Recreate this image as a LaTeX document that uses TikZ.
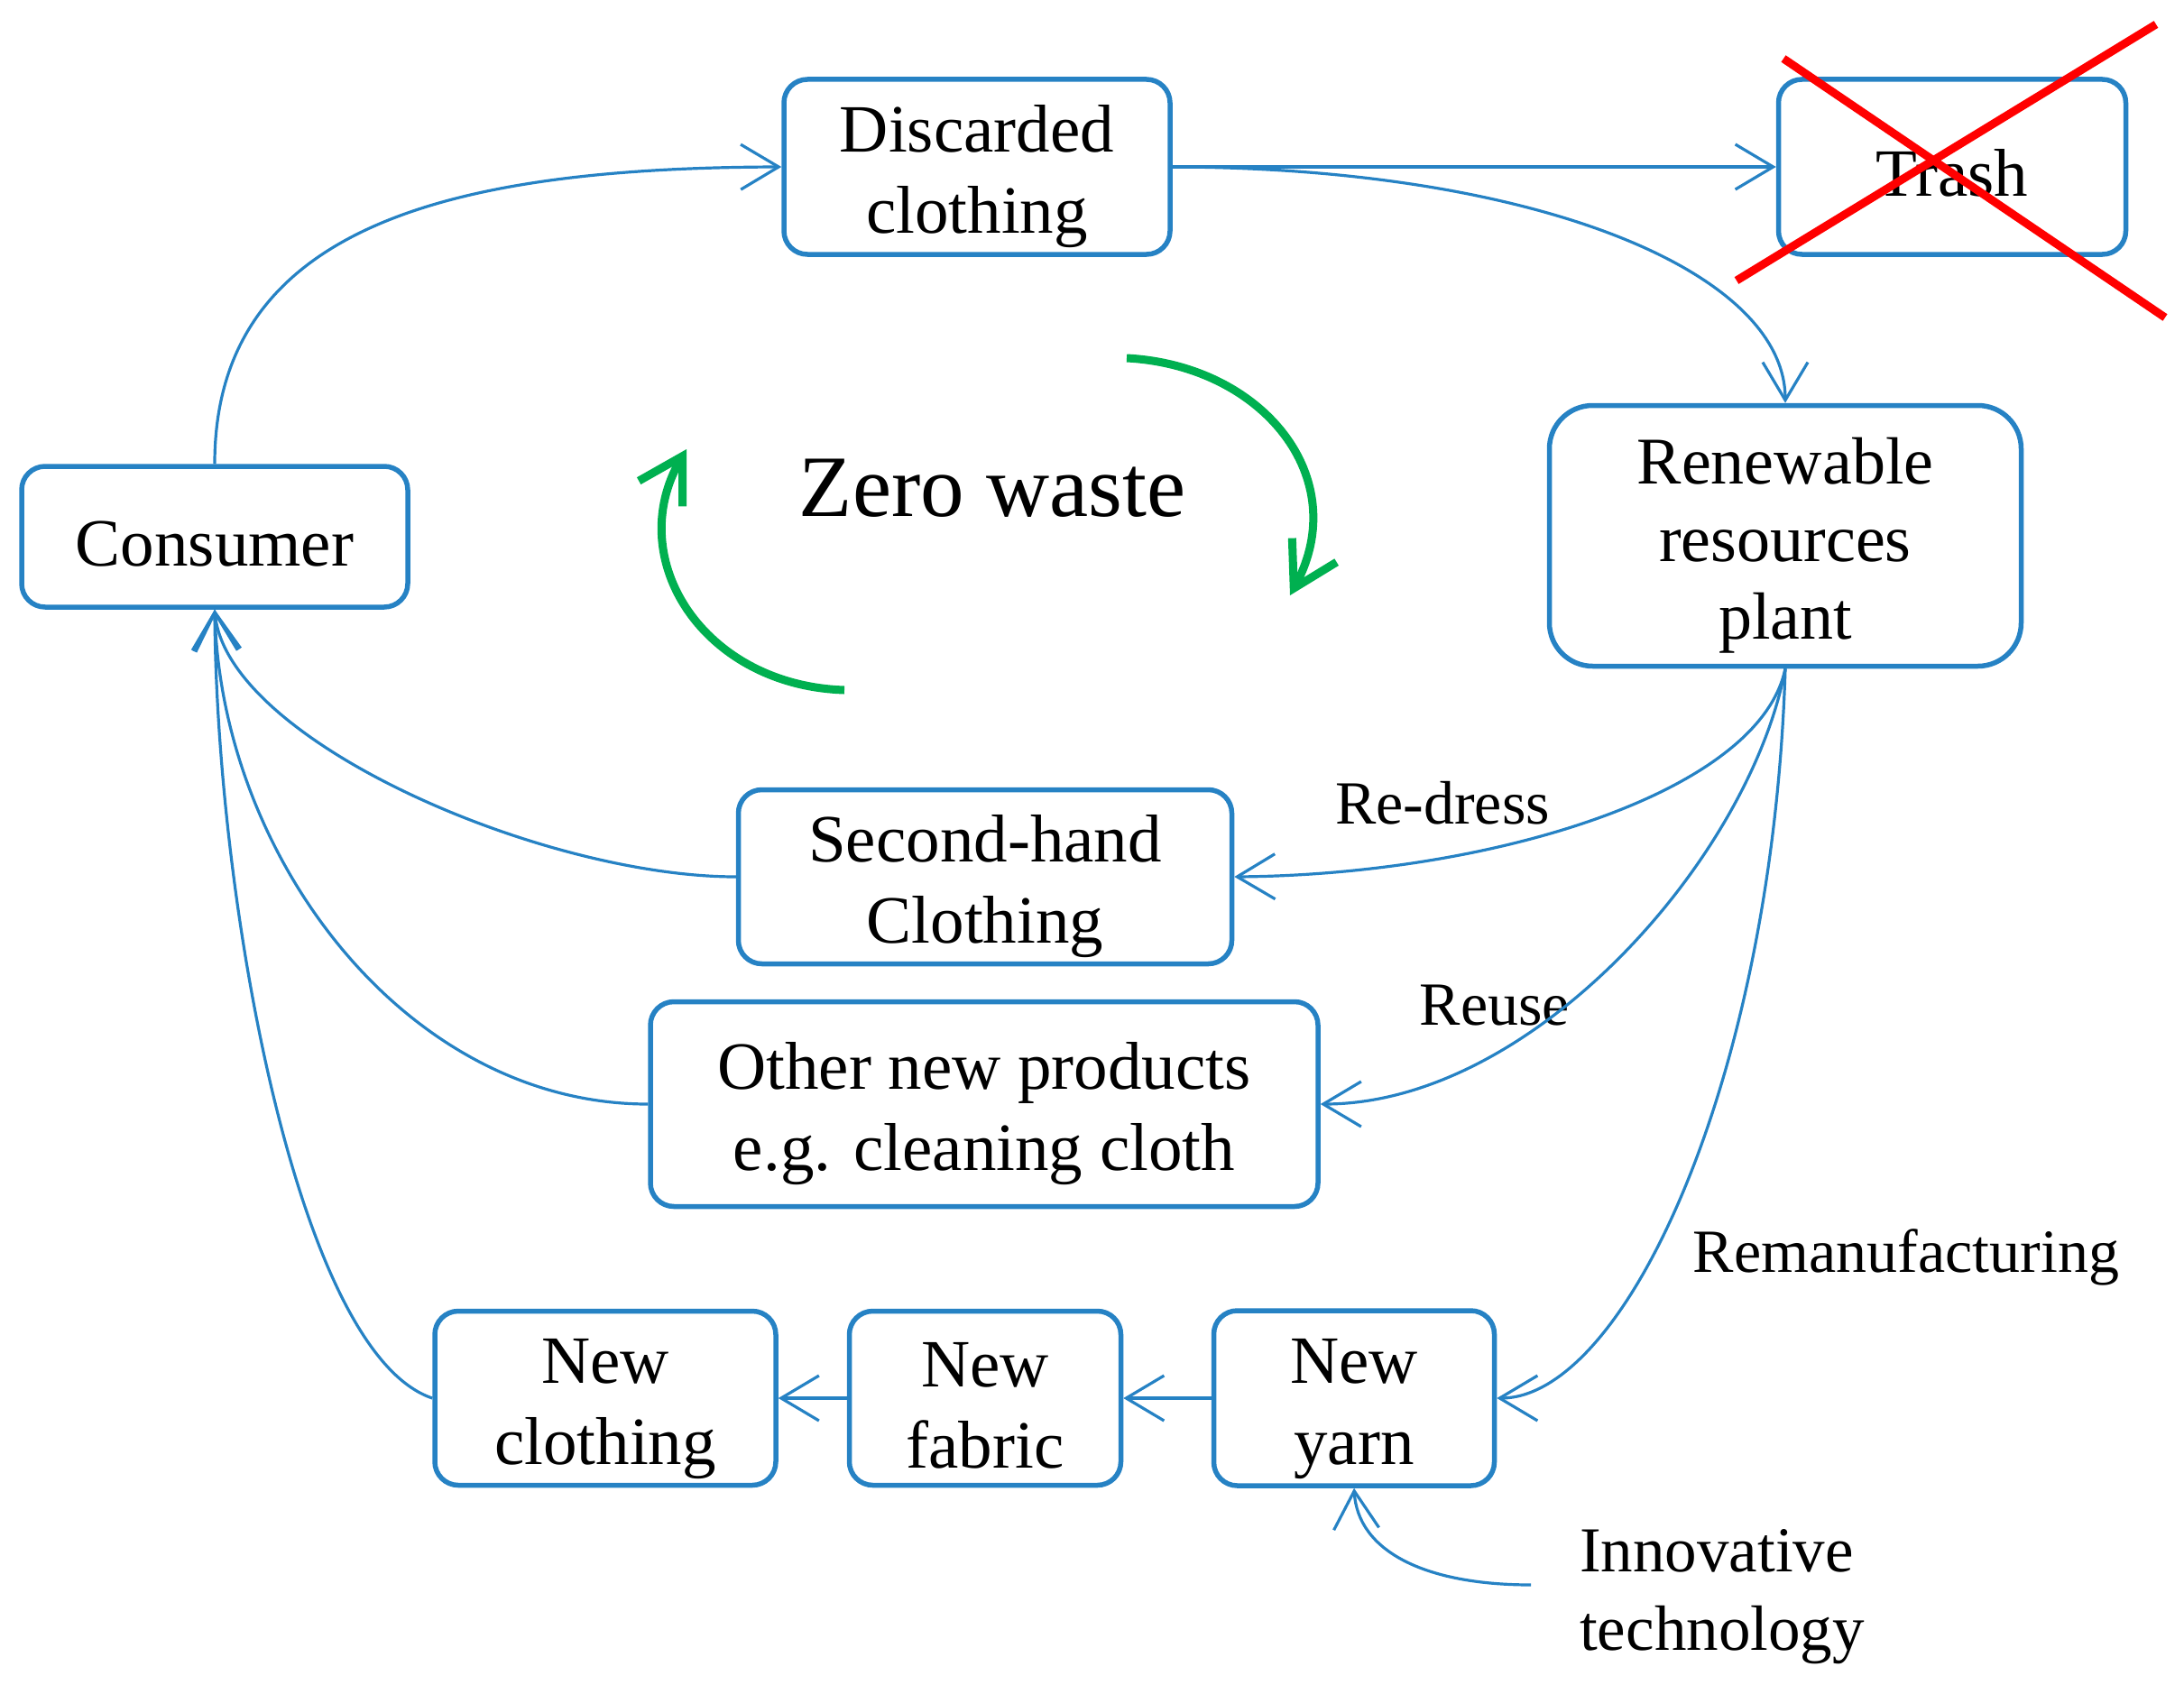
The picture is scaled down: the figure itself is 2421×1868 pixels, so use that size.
\documentclass[tikz,border=0pt]{standalone}
\usepackage{fontspec}
\setmainfont{Liberation Serif}
\usetikzlibrary{arrows.meta}
\definecolor{bblue}{RGB}{38,130,196}
\definecolor{zgreen}{RGB}{0,176,80}
\newcommand{\ls}{\rule[-0.12em]{0pt}{1.1em}}
\begin{document}
\begin{tikzpicture}[x=1pt,y=-1pt,
  box/.style={draw=bblue, line width=5.5pt, rounded corners=26pt, align=center, inner sep=0pt, font=\fontsize{75}{90}\selectfont},
  conn/.style={draw=bblue, line width=3.2pt, -{Straight Barb[length=42pt,width=50pt]}},
  lbl/.style={inner sep=0pt, font=\fontsize{68}{80}\selectfont, anchor=base},
  garrow/.style={draw=zgreen, line width=9pt, -{Straight Barb[length=48pt,width=56pt]}},
  crossline/.style={draw=red, line width=9pt}
]
\useasboundingbox (0,0) rectangle (2421,1868);

% boxes
\node[box, minimum width=428pt, minimum height=156pt] (cons) at (238,595) {\ls Consumer};
\node[box, minimum width=428pt, minimum height=194pt] (disc) at (1083,185) {\ls Discarded\\\ls clothing};
\node[box, minimum width=385pt, minimum height=194pt] (trash) at (2164,185) {\ls Trash};
\node[box, minimum width=523pt, minimum height=289pt, rounded corners=48pt, font=\fontsize{74}{86}\selectfont] (ren) at (1979,594) {\ls Renewable\\\ls resources\\\ls plant};
\node[box, minimum width=547pt, minimum height=193pt] (second) at (1092,972) {\ls Second-hand\\\ls Clothing};
\node[box, minimum width=740pt, minimum height=227pt] (other) at (1091,1224) {\ls Other new products\\\ls e.g. cleaning cloth};
\node[box, minimum width=378pt, minimum height=193pt] (nclo) at (671,1550) {\ls New\\\ls clothing};
\node[box, minimum width=301pt, minimum height=193pt] (nfab) at (1092,1550) {\ls New\\\ls fabric};
\node[box, minimum width=311pt, minimum height=194pt] (nyarn) at (1501,1550) {\ls New\\\ls yarn};

% red cross over trash
\coordinate (c1a) at (1977,65);
\coordinate (c1b) at (2400,352);
\coordinate (c2a) at (1925,311);
\coordinate (c2b) at (2390,27);
\draw[crossline] (c1a) -- (c1b);
\draw[crossline] (c2a) -- (c2b);

% labels
\node[inner sep=0pt, anchor=base, font=\fontsize{97}{110}\selectfont] (zero) at (1100,572) {Zero waste};
\node[lbl] (redress) at (1599,913) {Re-dress};
\node[lbl] (reuse) at (1657,1136) {Reuse};
\node[lbl] (reman) at (2113,1410) {Remanufacturing};
\node[inner sep=0pt, anchor=west, align=left, font=\fontsize{71}{87}\selectfont] (itech) at (1751,1770) {Innovative\\technology};
\coordinate (itstart) at (1697,1757);

% connectors
\draw[conn] (cons.north) .. controls (238,250) and (500,186) .. (disc.west);
\draw[conn] (disc.east) -- (trash.west);
\draw[conn] (disc.east) .. controls (1700,186) and (1979,300) .. (ren.north);
\draw[conn] (ren.south) .. controls (1950,880) and (1650,970) .. (second.east);
\draw[conn] (ren.south) .. controls (1940,950) and (1700,1224) .. (other.east);
\draw[conn] (ren.south) .. controls (1965,1200) and (1800,1550) .. (nyarn.east);
\draw[conn] (nyarn.west) -- (nfab.east);
\draw[conn] (nfab.west) -- (nclo.east);
\draw[conn] (nclo.west) .. controls (330,1500) and (240,1000) .. (cons.south);
\draw[conn] (other.west) .. controls (450,1224) and (245,950) .. (cons.south);
\draw[conn] (second.west) .. controls (600,972) and (250,820) .. (cons.south);
\draw[conn] (itstart) .. controls (1580,1757) and (1505,1720) .. (nyarn.south);

% green cycle arrows
\coordinate (g1s) at (1249,397);
\coordinate (g1e) at (1430,660);
\coordinate (g2s) at (936,765);
\coordinate (g2e) at (761,498);
\draw[garrow] (g1s) .. controls (1400,405) and (1500,530) .. (g1e);
\draw[garrow] (g2s) .. controls (780,760) and (690,620) .. (g2e);
\end{tikzpicture}
\end{document}
